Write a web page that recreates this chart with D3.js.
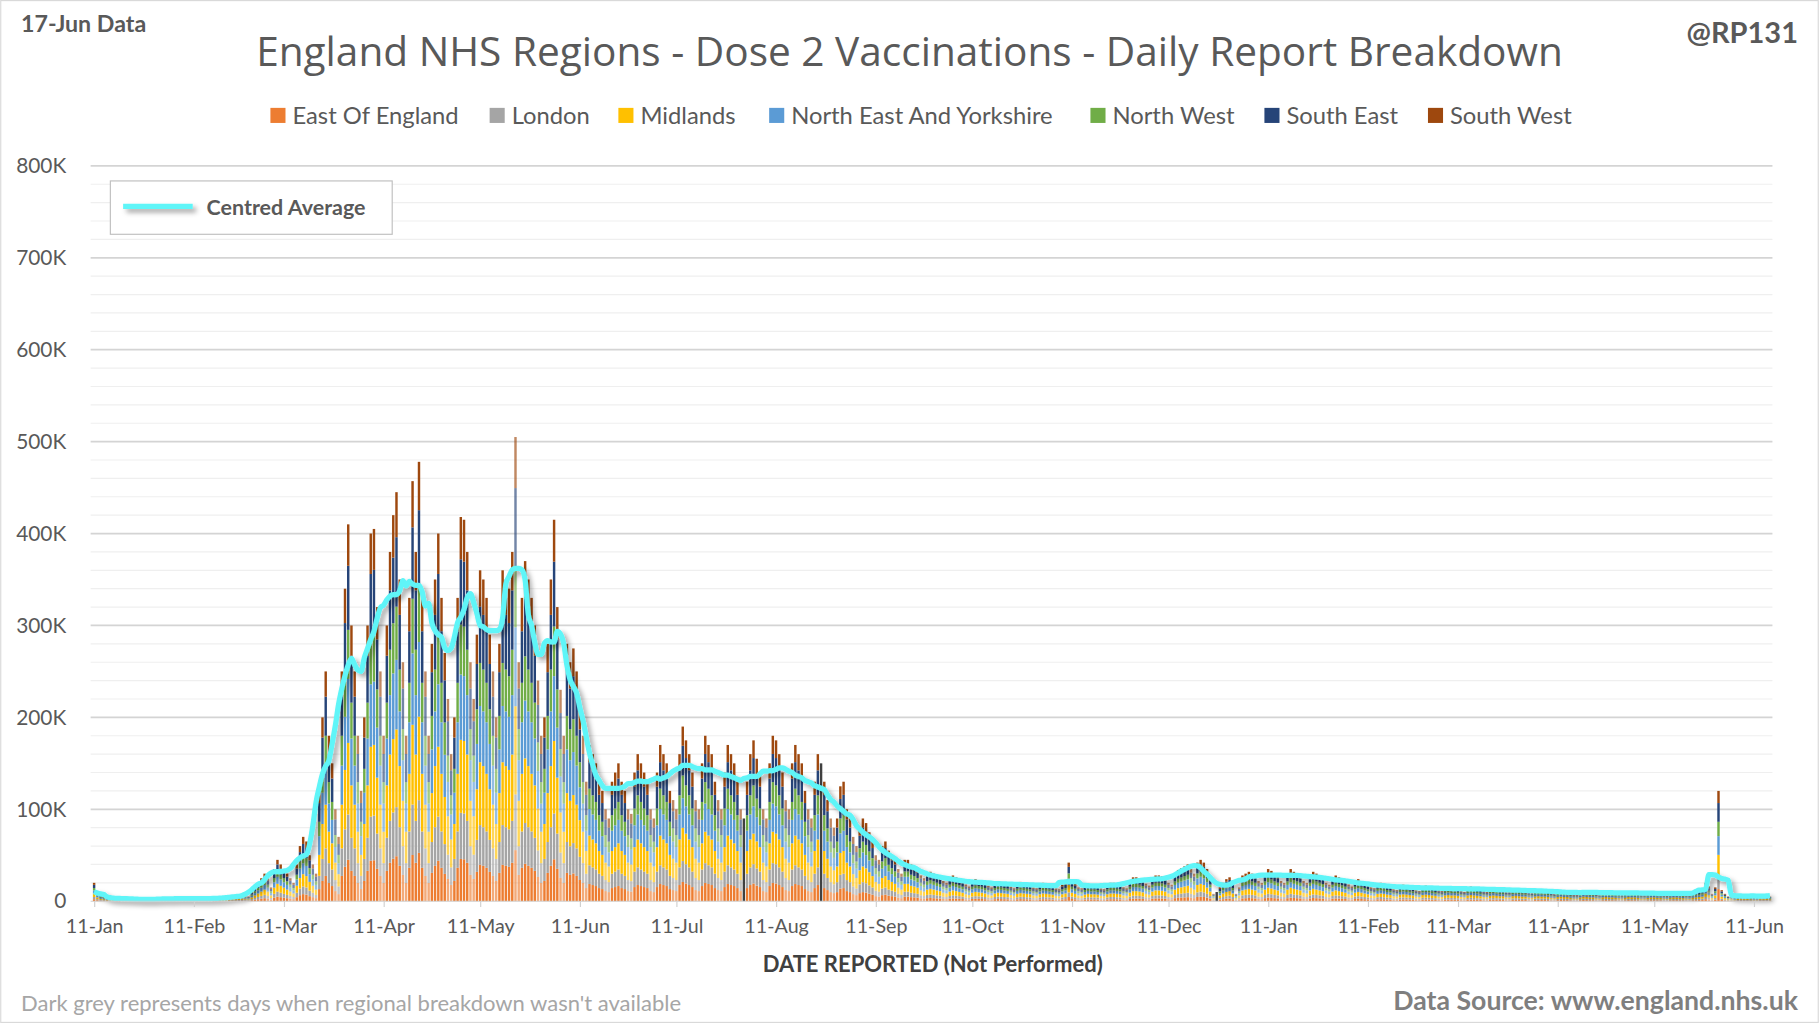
<!DOCTYPE html>
<html><head><meta charset="utf-8">
<script src="https://cdn.jsdelivr.net/npm/d3@7"></script>
<style>
body{margin:0;background:#fff}
svg{display:block;font-family:Lato,"Open Sans",sans-serif}
.axis text{fill:#595959;font-size:17px;font-family:Lato,sans-serif}
.axis path,.axis line{stroke:#d0d0d0}
</style></head><body><div id="chart"></div>
<script>
const regions=['East Of England','London','Midlands','North East And Yorkshire','North West','South East','South West'];
const colours=['#ED7D31','#A5A5A5','#FFC000','#5B9BD5','#70AD47','#264478','#9E480E'];
const shares=[0.11,0.12,0.19,0.17,0.13,0.17,0.11];
const startDate='2021-01-11';
// daily totals in thousands, one row per week Mon..Sun
const weeks=[
[20,10,6,5,4,3,3],[3,3,3,3,3,2,2],[2,2,2,2,2,2,2],[2,3,3,3,3,2,2],[3,4,3,3,3,2,2],
[3,3,3,3,4,3,3],[4,5,5,6,7,6,5],[10,15,20,25,30,25,15],[35,45,40,35,30,25,20],
[40,60,70,65,50,40,30],[120,200,250,180,150,100,70],[250,340,410,300,250,180,120],
[200,300,400,405,320,250,180],[300,380,420,445,350,260,180],[330,457,380,478,330,250,180],
[280,350,400,330,270,220,160],[200,330,418,415,380,260,220],[290,360,350,330,290,250,200],
[280,360,350,340,380,505,260],[330,370,350,330,300,240,180],[200,280,350,415,320,230,180],
[280,260,275,250,210,180,130],[170,160,150,130,120,100,90],[130,140,150,130,120,100,95],
[140,160,150,140,130,100,90],[140,170,160,150,120,110,100],[160,190,175,160,140,110,100],
[150,180,170,160,130,110,100],[140,170,160,150,130,100,90],[130,160,175,155,140,100,90],
[150,180,175,160,140,110,100],[150,170,160,150,120,100,90],[130,160,150,130,110,90,80],
[90,125,130,100,90,70,60],[80,90,85,75,65,50,45],[60,65,55,50,45,35,30],
[45,45,40,38,35,28,25],[30,32,30,28,26,22,20],[25,28,26,24,22,18,16],
[22,24,23,22,20,17,15],[20,22,21,20,19,16,14],[19,21,20,19,18,15,14],
[18,20,19,18,17,14,13],[18,20,42,22,19,15,14],[17,19,18,18,17,14,13],
[18,20,20,19,18,15,14],[22,26,26,25,23,19,17],[25,28,28,27,25,20,18],
[30,34,36,38,40,35,30],[42,45,42,35,25,8,10],[15,20,24,26,20,8,15],
[28,30,32,30,28,22,20],[30,35,33,30,28,22,20],[30,35,32,30,28,22,20],
[28,32,30,28,26,20,18],[25,28,26,24,22,18,16],[22,24,22,20,18,15,14],
[19,20,19,17,16,13,12],[17,18,17,16,15,12,11],[16,17,16,15,14,12,11],
[15,16,15,15,14,11,10],[15,16,15,14,13,11,10],[14,15,14,13,13,10,10],
[13,14,13,12,12,10,9],[12,13,12,12,11,9,8],[11,12,11,11,9,7,7],
[10,12,11,10,10,8,7],[10,11,10,10,9,8,7],[9,11,10,10,9,7,7],
[9,10,10,9,9,7,6],[9,10,10,9,8,7,6],[9,10,11,12,20,16,8],
[15,120,12,8,5,5,4],[6,7,7,6,5,4,4],[7,7,6,5]];
const unavailable=['2021-08-01','2021-08-25','2021-12-26'];
const yTicks=[0,100,200,300,400,500,600,700,800];
const tickDates=['2021-01-11','2021-02-11','2021-03-11','2021-04-11','2021-05-11','2021-06-11','2021-07-11','2021-08-11','2021-09-11','2021-10-11','2021-11-11','2021-12-11','2022-01-11','2022-02-11','2022-03-11','2022-04-11','2022-05-11','2022-06-11'];

const W=1568,H=882;
const svg=d3.select('#chart').append('svg').attr('width',1819).attr('height',1023).attr('viewBox',`0 0 ${W} ${H}`);
svg.append('rect').attr('x',0.5).attr('y',0.5).attr('width',W-1).attr('height',H-1).attr('fill','#fff').attr('stroke','#d9d9d9');

const parse=d3.utcParse('%Y-%m-%d'),fmt=d3.utcFormat('%Y-%m-%d');
const t0=parse(startDate);
const totals=weeks.flat();
const days=totals.map((v,i)=>({date:d3.utcDay.offset(t0,i),total:v*1000}));
days.forEach(d=>d.na=unavailable.includes(fmt(d.date)));
const avg=days.map((d,i)=>{const s=days.slice(Math.max(0,i-3),i+4);return{date:d.date,v:d3.mean(s,e=>e.total)}});

const x=d3.scaleUtc().domain([parse('2021-01-11'),parse('2022-06-11')]).range([81,1512]);
const y=d3.scaleLinear().domain([0,800000]).range([777,143]);
const bw=2.1;

// gridlines
svg.append('g').selectAll('line').data(d3.range(20000,800001,20000)).join('line')
  .attr('x1',78).attr('x2',1528).attr('y1',d=>y(d)).attr('y2',d=>y(d))
  .attr('stroke',d=>d%100000===0?'#d4d4d4':'#efefef').attr('stroke-width',d=>d%100000===0?1.5:1);

// stacked bars
const stackRows=days.map(d=>{const o={date:d.date,na:d.na,total:d.total};regions.forEach((r,i)=>o[r]=d.total*shares[i]);return o});
const series=d3.stack().keys(regions)(stackRows.filter(d=>!d.na));
svg.append('g').selectAll('g').data(series).join('g').attr('fill',(s,i)=>colours[i])
  .selectAll('rect').data(s=>s).join('rect')
  .attr('x',d=>x(d.data.date)-bw/2).attr('width',bw)
  .attr('y',d=>y(d[1])).attr('height',d=>Math.max(0,y(d[0])-y(d[1])))
  .attr('opacity',d=>{const w=d.data.date.getUTCDay();return w===0||w===6?0.65:1});
svg.append('g').selectAll('rect').data(days.filter(d=>d.na)).join('rect')
  .attr('x',d=>x(d.date)-bw/2).attr('width',bw).attr('y',d=>y(d.total)).attr('height',d=>777-y(d.total)).attr('fill','#404040');

// centred average
const defs=svg.append('defs');
const f=defs.append('filter').attr('id','sh').attr('filterUnits','userSpaceOnUse').attr('x',0).attr('y',0).attr('width',W).attr('height',H);
f.append('feDropShadow').attr('dx',3).attr('dy',3).attr('stdDeviation',2.5).attr('flood-color','#000').attr('flood-opacity',0.35);
const line=d3.line().x(d=>x(d.date)).y(d=>y(d.v)).curve(d3.curveMonotoneX);
svg.append('path').datum(avg).attr('d',line).attr('fill','none').attr('stroke','#5ff5f8').attr('stroke-width',4.5).attr('filter','url(#sh)');

// axes
svg.append('g').attr('class','axis').attr('transform','translate(0,777)')
  .call(d3.axisBottom(x).tickValues(tickDates.map(parse)).tickFormat(d3.utcFormat('%d-%b')).tickSize(5).tickPadding(10))
  .call(g=>g.select('.domain').attr('d','M78,0H1528'));
svg.append('g').attr('class','axis').attr('transform','translate(60,0)')
  .call(d3.axisLeft(y).tickValues(yTicks.map(v=>v*1000)).tickFormat(d=>d===0?'0':d/1000+'K').tickSize(0))
  .call(g=>g.select('.domain').remove()).selectAll('text').style('font-size','18px');

// texts
const txt=(t,xx,yy,o)=>{const e=svg.append('text').attr('x',xx).attr('y',yy).text(t).attr('fill',o.c||'#595959').attr('font-size',o.s).attr('font-weight',o.b?'bold':'normal').attr('text-anchor',o.a||'start');if(o.f)e.attr('font-family',o.f);return e};
txt('England NHS Regions - Dose 2 Vaccinations - Daily Report Breakdown',784,57,{s:35,a:'middle',f:'"Open Sans",sans-serif'});
txt('17-Jun Data',18,28,{s:20,b:1});
txt('@RP131',1550,37,{s:25,b:1,a:'end'});
txt('DATE REPORTED (Not Performed)',804,838,{s:19,b:1,a:'middle',c:'#404040'});
txt("Dark grey represents days when regional breakdown wasn't available",18,872,{s:19,c:'#a6a6a6'});
txt('Data Source: www.england.nhs.uk',1550,871,{s:23,b:1,a:'end',c:'#7f7f7f'});

// legend
const lx=[233,422,533,663,940,1090,1231];
const lg=svg.append('g');
regions.forEach((r,i)=>{
  lg.append('rect').attr('x',lx[i]).attr('y',93).attr('width',13).attr('height',13).attr('fill',colours[i]);
  txt(r,lx[i]+19,107,{s:20.5});
});
svg.append('rect').attr('x',95).attr('y',156).attr('width',243).attr('height',46).attr('fill','#fff').attr('stroke','#bfbfbf');
svg.append('line').attr('x1',106).attr('x2',166).attr('y1',178).attr('y2',178).attr('stroke','#5ff5f8').attr('stroke-width',4.5).attr('filter','url(#sh)');
txt('Centred Average',178,185,{s:18.5,b:1});
</script></body></html>
